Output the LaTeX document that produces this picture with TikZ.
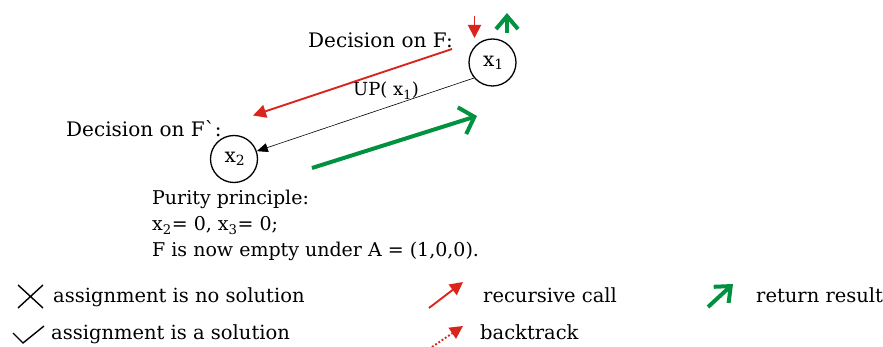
\documentclass[tikz,border=0pt]{standalone}
\usepackage{fontspec}
\setmainfont{DejaVu Serif}
\newfontfamily\rawserif{DejaVu Serif}
\usetikzlibrary{arrows.meta}
\definecolor{myred}{RGB}{218,37,29}
\definecolor{mygreen}{RGB}{0,146,63}
\begin{document}
\begin{tikzpicture}[x=1pt,y=-1pt,
  txt/.style={inner sep=0pt, anchor=base west, font=\fontsize{20}{24}\selectfont},
  leg/.style={inner sep=0pt, anchor=base west, font=\fontsize{19.5}{22}\selectfont},
  var/.style={circle, draw, line width=1.3pt, minimum size=47pt, inner sep=0pt, font=\fontsize{20}{22}\selectfont},
  callarrow/.style={draw=myred, line width=1.9pt, -{Triangle[length=13pt,width=13pt]}},
  btarrow/.style={draw=myred, line width=1.9pt, dotted, -{Triangle[length=13pt,width=13pt]}},
  retarrow/.style={draw=mygreen, line width=4pt, -{Straight Barb[length=13pt,width=28pt]}},
  smallret/.style={draw=mygreen, line width=4pt, -{Straight Barb[length=13pt,width=22pt]}},
  uparrow/.style={draw=black, line width=0.6pt, -{Triangle[length=11pt,width=9pt]}},
  markline/.style={draw=black, line width=1.4pt}]
\useasboundingbox (0,0) rectangle (883,347);
% variables
\node[var] (x1) at (492.5,62.5) {\hspace*{2pt}x\textsubscript{1}};
\node[var] (x2) at (234,159) {\hspace*{2pt}x\textsubscript{2}};
% texts
\node[txt] (decF) at (308,48) {Decision on F:};
\node[txt] (decFp) at (66,137) {Decision on F{\rawserif`}:};
\node[txt, font=\fontsize{18}{20}\selectfont] (up) at (353,96) {UP( x\textsubscript{1})};
\node[anchor=north west, inner sep=0pt, align=left, font=\fontsize{19}{26}\selectfont] (pur) at (152,190)
  {Purity principle:\\x\textsubscript{2}= 0, x\textsubscript{3}= 0;\\F is now empty under A = (1,0,0).};
% connectors
\coordinate (r1) at (452,49);
\coordinate (r2) at (253,115.5);
\draw[callarrow] (r1) -- (r2);
\draw[uparrow] (x1.220) -- (x2.19);
\coordinate (g1) at (312,168);
\coordinate (g2) at (477,116);
\draw[retarrow] (g1) -- (g2);
\coordinate (rd1) at (474.5,16);
\coordinate (rd2) at (474.5,38);
\draw[callarrow] (rd1) -- (rd2);
\coordinate (gu1) at (507,33);
\coordinate (gu2) at (507,13);
\draw[smallret] (gu1) -- (gu2);
% legend
\draw[markline] (18,285) -- (43,308) (18,308) -- (43,285);
\draw[markline] (13,333) -- (23,343) -- (44,326);
\node[leg] (l1) at (53,302) {assignment is no solution};
\node[leg] (l2) at (51,339) {assignment is a solution};
\coordinate (lr1) at (429,308);
\coordinate (lr2) at (463,282);
\draw[callarrow] (lr1) -- (lr2);
\node[leg] (l3) at (483,302) {recursive call};
\coordinate (lb1) at (432,347);
\coordinate (lb2) at (463,326);
\draw[btarrow] (lb1) -- (lb2);
\node[leg] (l4) at (480,339) {backtrack};
\coordinate (lg1) at (708,307);
\coordinate (lg2) at (733,284);
\draw[smallret] (lg1) -- (lg2);
\node[leg] (l5) at (756,302) {return result};
\end{tikzpicture}
\end{document}
